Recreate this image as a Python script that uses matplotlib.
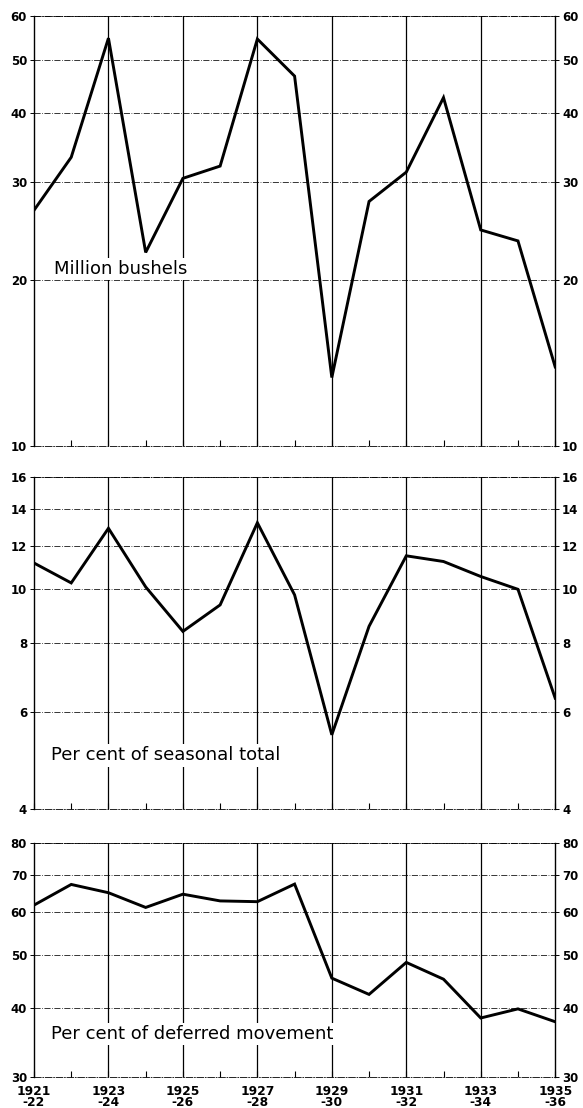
import matplotlib
matplotlib.use('Agg')
import matplotlib.pyplot as plt
from matplotlib.ticker import FixedLocator, NullFormatter
import numpy as np

# crop years 1921-22 .. 1935-36
years = np.arange(1921, 1936)
bushels = [26.7, 33.3, 54.7, 22.4, 30.5, 32.1, 54.5, 46.7, 13.3, 27.7, 31.3, 42.7, 24.6, 23.5, 13.9]
pct_seasonal = [11.16, 10.27, 12.9, 10.1, 8.39, 9.37, 13.2, 9.77, 5.45, 8.57, 11.5, 11.23, 10.55, 10.0, 6.35]
pct_deferred = [61.7, 67.3, 65.0, 61.1, 64.6, 62.8, 62.6, 67.4, 45.4, 42.4, 48.5, 45.2, 38.4, 39.9, 37.8]

label_years = np.arange(1921, 1936, 2)
year_labels = ['%d\n-%02d' % (y, (y + 1) % 100) for y in label_years]

panels = [
    dict(data=bushels, ylim=(10, 60), ticks=[10, 20, 30, 40, 50, 60],
         label='Million bushels', lx=1921.55, ly=20.9,
         rect=[0.0583, 0.5975, 0.894, 0.3881]),
    dict(data=pct_seasonal, ylim=(4, 16), ticks=[4, 6, 8, 10, 12, 14, 16],
         label='Per cent of seasonal total', lx=1921.45, ly=5.0,
         rect=[0.0583, 0.2699, 0.894, 0.2999]),
    dict(data=pct_deferred, ylim=(30, 80), ticks=[30, 40, 50, 60, 70, 80],
         label='Per cent of deferred movement', lx=1921.45, ly=35.9,
         rect=[0.0583, 0.0282, 0.894, 0.2107]),
]

label_font = ['Liberation Sans Narrow', 'DejaVu Sans Condensed', 'DejaVu Sans']
tick_font = {'family': 'DejaVu Sans', 'size': 8.5, 'weight': 'bold'}
year_font = {'family': 'DejaVu Sans', 'size': 8.8, 'weight': 'bold'}

fig = plt.figure(figsize=(5.83, 11.08), dpi=100)

for i, p in enumerate(panels):
    ax = fig.add_axes(p['rect'])
    ax.set_yscale('log')
    ax.set_xlim(1921, 1935)
    ax.set_ylim(*p['ylim'])

    # horizontal dash-dot grid
    for t in p['ticks']:
        ax.axhline(t, color='black', lw=0.55, ls=(0, (8, 2, 1, 2)), zorder=1)
    # vertical solid lines at odd years
    for y in label_years[1:-1]:
        ax.axvline(y, color='black', lw=0.9, zorder=1)

    ax.plot(years, p['data'], color='black', lw=2.1, zorder=3, solid_joinstyle='miter')

    ax.text(p['lx'], p['ly'], p['label'], family=label_font, fontsize=13,
            ha='left', va='center', zorder=2,
            bbox=dict(facecolor='white', edgecolor='none', pad=1.5))

    ax.yaxis.set_major_locator(FixedLocator(p['ticks']))
    ax.yaxis.set_minor_locator(FixedLocator([]))
    ax.set_yticklabels([str(t) for t in p['ticks']], fontdict=tick_font)
    ax.tick_params(axis='y', which='both', left=True, right=True,
                   labelleft=True, labelright=True, length=3, width=0.7, pad=2)
    for tk in ax.yaxis.get_major_ticks():
        tk.label1.set_va('center_baseline')
        tk.label2.set_va('center_baseline')

    ax.xaxis.set_major_locator(FixedLocator(label_years))
    ax.xaxis.set_minor_locator(FixedLocator(np.arange(1922, 1935, 2)))
    ax.xaxis.set_minor_formatter(NullFormatter())
    ax.tick_params(axis='x', which='both', direction='in', length=4, width=0.8)
    if i == 2:
        ax.set_xticklabels(year_labels, fontdict=year_font, linespacing=0.75)
        ax.tick_params(axis='x', which='major', pad=6)
    else:
        ax.set_xticklabels([])

    for s in ['left', 'right']:
        ax.spines[s].set_linewidth(1.0)
    for s in ['top', 'bottom']:
        ax.spines[s].set_linewidth(0.6)
        ax.spines[s].set_linestyle((0, (8, 2, 1, 2)))

plt.savefig('out.png', dpi=100)
